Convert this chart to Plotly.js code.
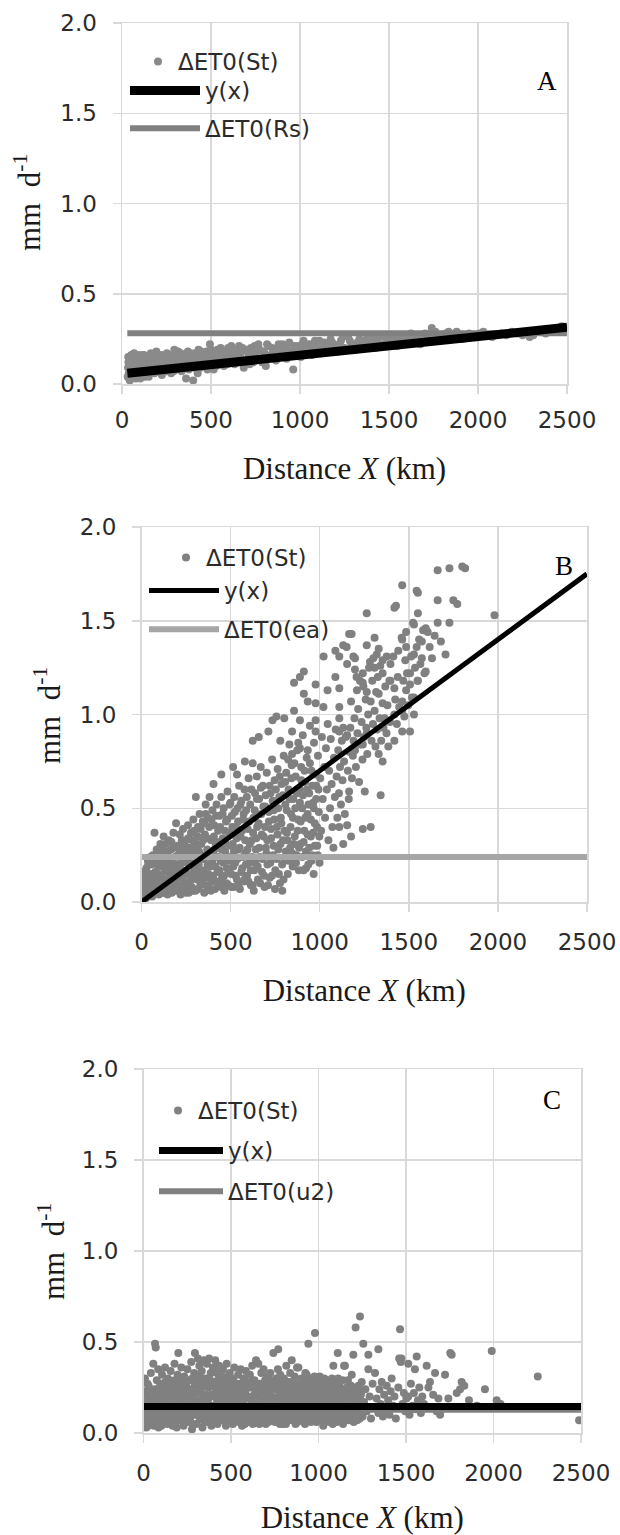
<!DOCTYPE html>
<html>
<head>
<meta charset="utf-8">
<script src="https://cdn.plot.ly/plotly-3.0.1.min.js"></script>
<style>html,body{margin:0;padding:0;background:#fff;}#chart{width:620px;height:1535px;}</style>
</head>
<body>
<div id="chart"></div>
<script>
// ---------- DATA ----------
const panelLabels = ["A", "B", "C"];
const seriesNames = ["\u0394ET0(St)", "y(x)"];
const refNames = ["\u0394ET0(Rs)", "\u0394ET0(ea)", "\u0394ET0(u2)"];
const xTitle = "Distance <i>X</i> (km)";
const yTitle = "mm  d<sup>-1</sup>";
const xTicks = [0, 500, 1000, 1500, 2000, 2500];
const yTicks = [0.0, 0.5, 1.0, 1.5, 2.0];

// Panel A: ΔET0(St) points [distance km, mm/d]
const stA = [[32,0.04],[34,0.09],[36,0.12],[38,0.06],[40,0.03],[42,0.10],[45,0.07],[48,0.13],[50,0.05],[53,0.08],
[56,0.11],[60,0.04],[62,0.14],[66,0.09],[70,0.06],[74,0.12],[78,0.03],[82,0.10],[86,0.15],[90,0.07],
[95,0.12],[100,0.05],[105,0.14],[110,0.09],[115,0.16],[120,0.06],[126,0.12],[132,0.08],[138,0.15],[145,0.11],
[150,0.04],[156,0.13],[162,0.17],[168,0.09],[175,0.12],[182,0.06],[190,0.15],[196,0.10],[204,0.13],[212,0.07],
[220,0.16],[228,0.11],[236,0.08],[244,0.14],[252,0.17],[260,0.10],[268,0.13],[276,0.06],[285,0.15],[294,0.19],
[302,0.11],[310,0.14],[320,0.09],[330,0.17],[340,0.12],[350,0.15],[360,0.03],[370,0.18],[380,0.10],[390,0.14],
[400,0.02],[410,0.17],[420,0.12],[430,0.19],[440,0.09],[450,0.15],[462,0.13],[474,0.18],[486,0.11],[494,0.22],
[505,0.16],[515,0.08],[525,0.14],[536,0.19],[548,0.12],[560,0.17],[572,0.10],[584,0.15],[596,0.20],[608,0.13],
[620,0.18],[632,0.11],[645,0.16],[658,0.21],[670,0.14],[684,0.09],[696,0.19],[710,0.15],[724,0.20],[738,0.12],
[752,0.17],[766,0.22],[780,0.14],[794,0.18],[808,0.10],[822,0.21],[836,0.16],[850,0.19],[865,0.13],[880,0.22],
[895,0.17],[910,0.20],[925,0.14],[940,0.23],[962,0.08],[975,0.18],[990,0.21],[1005,0.15],[1020,0.24],[1036,0.19],
[1052,0.22],[1068,0.16],[1084,0.24],[1100,0.20],[1118,0.17],[1136,0.23],[1154,0.19],[1172,0.25],[1190,0.21],[1210,0.18],
[1230,0.24],[1250,0.20],[1270,0.26],[1290,0.22],[1312,0.19],[1334,0.25],[1356,0.21],[1378,0.27],[1400,0.23],[1424,0.20],
[1448,0.26],[1472,0.22],[1496,0.27],[1520,0.24],[1546,0.21],[1572,0.27],[1598,0.23],[1624,0.28],[1650,0.25],[1676,0.22],
[1702,0.28],[1728,0.25],[1740,0.31],[1760,0.29],[1790,0.24],[1820,0.28],[1850,0.26],[1880,0.29],[1915,0.25],[1950,0.28],
[1990,0.27],[2030,0.29],[2080,0.26],[2130,0.28],[2190,0.29],[2250,0.27],[2290,0.26],[2330,0.29],[2380,0.28],[2420,0.30],
[2450,0.29],[2470,0.32],[2490,0.31],[2500,0.30]];
const stA_more = [[35,0.15],[44,0.02],[52,0.16],[58,0.05],[64,0.12],[68,0.17],[76,0.08],[84,0.05],[88,0.13],[92,0.16],
[98,0.09],[103,0.03],[108,0.12],[113,0.06],[118,0.11],[123,0.16],[129,0.04],[135,0.10],[141,0.07],[147,0.14],
[153,0.09],[159,0.06],[165,0.12],[171,0.15],[178,0.08],[185,0.11],[193,0.18],[200,0.07],[208,0.10],[216,0.13],
[224,0.05],[232,0.15],[240,0.10],[248,0.07],[256,0.13],[264,0.16],[272,0.09],[281,0.12],[290,0.07],[298,0.16],
[306,0.08],[315,0.18],[325,0.13],[335,0.07],[345,0.16],[355,0.11],[365,0.14],[375,0.08],[385,0.17],[395,0.12],
[405,0.09],[415,0.15],[425,0.06],[435,0.13],[445,0.18],[455,0.10],[468,0.16],[480,0.08],[490,0.14],[500,0.19],
[510,0.12],[520,0.17],[530,0.10],[542,0.15],[554,0.20],[566,0.13],[578,0.18],[590,0.11],[602,0.16],[614,0.21],
[626,0.14],[638,0.19],[651,0.12],[664,0.17],[677,0.20],[690,0.13],[703,0.18],[717,0.11],[731,0.16],[745,0.21],
[759,0.14],[773,0.19],[787,0.12],[801,0.17],[815,0.22],[829,0.15],[843,0.20],[858,0.14],[872,0.18],[888,0.15],
[902,0.22],[918,0.16],[932,0.19],[948,0.17],[968,0.21],[983,0.16],[998,0.19],[1013,0.22],[1028,0.17],[1044,0.21],
[1060,0.19],[1076,0.22],[1092,0.17],[1109,0.24],[1127,0.20],[1145,0.22],[1163,0.18],[1181,0.23],[1200,0.20],[1220,0.22],
[1240,0.26],[1260,0.19],[1280,0.24],[1301,0.21],[1323,0.23],[1345,0.20],[1367,0.24],[1389,0.22],[1412,0.25],[1436,0.23],
[1460,0.21],[1484,0.25],[1508,0.22],[1533,0.26],[1559,0.24],[1585,0.26],[1611,0.25],[1637,0.23],[1663,0.27],[1689,0.26],
[1715,0.24],[1745,0.27],[1775,0.26],[1805,0.25],[1835,0.29],[1865,0.27],[1900,0.26],[1935,0.27],[1970,0.26],[2010,0.28],
[2055,0.27],[2105,0.27],[2160,0.27],[2220,0.28],[2310,0.27],[2400,0.29],[2440,0.31],[2480,0.29]];
const fitA_x = [30, 2500];
const fitA_y = [0.059, 0.314];
const refA_x = [30, 2500];
const refA_y = [0.281, 0.281];

// Panel B
const stB = [[5,0.03],[12,0.08],[18,0.13],[22,0.05],[27,0.18],[31,0.10],[36,0.22],[40,0.04],[44,0.15],[48,0.07],
[52,0.12],[56,0.20],[60,0.03],[64,0.25],[68,0.09],[73,0.37],[77,0.16],[81,0.06],[85,0.28],[90,0.11],[94,0.19],[98,0.04],
[102,0.14],[106,0.31],[110,0.07],[115,0.22],[119,0.10],[124,0.35],[128,0.05],[132,0.17],[137,0.26],[141,0.12],[146,0.04],[149,0.20],
[153,0.33],[157,0.08],[162,0.15],[166,0.28],[170,0.05],[175,0.19],[179,0.37],[183,0.11],[188,0.24],[192,0.06],[194,0.42],[197,0.14],
[202,0.30],[206,0.09],[211,0.18],[215,0.36],[219,0.04],[224,0.22],[228,0.13],[233,0.39],[237,0.07],[241,0.27],[246,0.16],[249,0.33],
[252,0.10],[256,0.21],[261,0.41],[265,0.05],[269,0.29],[274,0.14],[278,0.37],[282,0.08],[287,0.24],[291,0.44],[295,0.17],[299,0.32],
[303,0.06],[305,0.56],[308,0.26],[312,0.12],[317,0.40],[321,0.20],[326,0.47],[330,0.09],[335,0.31],[339,0.15],[344,0.43],[348,0.23],
[352,0.05],[356,0.36],[360,0.52],[360,0.47],[364,0.13],[369,0.28],[373,0.45],[377,0.08],[382,0.56],[386,0.19],[391,0.33],[395,0.11],[398,0.49],
[404,0.63],[404,0.25],[408,0.41],[412,0.07],[417,0.30],[421,0.52],[426,0.16],[430,0.38],[435,0.10],[439,0.46],[444,0.22],[448,0.68],[448,0.56],
[452,0.13],[456,0.34],[461,0.50],[465,0.06],[470,0.27],[474,0.43],[479,0.18],[483,0.59],[488,0.09],[492,0.37],[497,0.24],[499,0.53],
[503,0.15],[507,0.46],[512,0.31],[514,0.72],[517,0.08],[521,0.56],[526,0.21],[530,0.40],[535,0.12],[536,0.68],[539,0.50],[544,0.28],[548,0.62],
[552,0.07],[556,0.35],[561,0.54],[565,0.18],[570,0.44],[574,0.11],[578,0.60],[580,0.75],[583,0.26],[587,0.49],[592,0.14],[596,0.39],
[601,0.66],[605,0.21],[610,0.52],[614,0.09],[619,0.33],[624,0.86],[624,0.74],[624,0.09],[628,0.45],[633,0.17],[637,0.58],[642,0.28],[647,0.67],[649,0.40],
[653,0.12],[658,0.88],[660,0.55],[664,0.24],[669,0.72],[672,0.47],[676,0.16],[681,0.62],[685,0.35],[690,0.08],[694,0.51],[698,0.29],
[703,0.69],[707,0.20],[712,0.91],[715,0.43],[719,0.13],[724,0.58],[728,0.34],[733,0.76],[735,0.97],[738,0.25],[742,0.49],[747,0.65],
[751,0.17],[757,0.99],[760,0.40],[764,0.71],[768,0.28],[773,0.56],[777,0.10],[779,0.86],[782,0.45],[786,0.63],[790,0.06],[794,0.33],[798,0.78],
[801,0.98],[803,0.22],[807,0.52],[812,0.69],[816,0.37],[821,0.15],[825,0.60],[830,0.84],[834,0.29],[839,0.47],[843,0.73],[845,0.91],[845,0.79],[848,0.19],
[852,0.55],[856,1.02],[856,1.17],[860,0.35],[865,0.67],[869,0.25],[874,0.81],[878,0.44],[883,0.17],[887,0.60],[889,0.82],[889,0.97],[889,1.20],[892,0.31],[896,0.72],
[901,0.50],[905,0.89],[910,0.17],[911,1.23],[911,1.11],[914,0.38],[918,0.64],[923,0.27],[927,0.77],[932,0.47],[933,1.07],[933,0.81],[936,0.20],[941,0.58],[945,0.94],
[950,0.35],[954,0.70],[959,0.25],[963,0.53],[966,0.15],[968,0.85],[972,0.42],[977,0.97],[977,0.91],[977,1.06],[977,1.16],[981,0.62],[986,0.30],[990,0.78],[995,0.48],[999,0.21],
[1003,0.66],[1008,0.38],[1012,0.88],[1017,0.55],[1021,1.04],[1022,1.31],[1026,0.72],[1030,0.45],[1035,0.82],[1040,0.60],[1044,1.13],[1045,0.95],[1049,0.33],
[1053,0.70],[1058,0.50],[1062,0.87],[1067,0.63],[1071,0.40],[1077,0.29],[1080,0.77],[1085,0.56],[1088,1.20],[1088,1.34],[1090,0.92],[1095,0.67],[1099,0.45],
[1104,0.81],[1108,0.58],[1110,0.98],[1110,0.91],[1110,1.04],[1110,1.14],[1110,1.31],[1110,0.40],[1114,0.72],[1119,0.52],[1124,0.86],[1128,0.65],[1132,0.93],[1132,0.31],[1132,1.37],[1137,0.75],[1141,0.47],[1146,0.88],
[1151,1.36],[1154,0.41],[1154,0.89],[1154,1.27],[1158,0.70],[1163,0.55],[1165,0.59],[1165,1.43],[1168,0.80],[1172,0.93],[1176,0.35],[1176,1.07],[1179,1.43],[1181,0.66],[1186,0.78],[1189,1.31],[1190,0.86],[1195,0.98],[1198,1.30],[1198,1.24],[1198,0.81],
[1203,0.72],[1207,1.20],[1209,1.13],[1212,0.90],[1216,1.03],[1221,0.64],[1226,1.18],[1230,0.84],[1235,0.96],[1240,0.76],[1242,0.39],[1242,0.84],[1242,1.17],[1242,1.22],[1245,1.15],[1249,0.88],[1253,0.59],
[1258,1.08],[1262,0.93],[1264,1.54],[1264,1.37],[1264,1.12],[1264,0.90],[1267,0.79],[1272,1.00],[1277,1.25],[1282,1.28],[1286,1.07],[1286,0.40],[1291,0.86],[1295,1.18],[1299,0.95],
[1301,1.30],[1308,1.41],[1308,1.25],[1308,1.02],[1313,0.83],[1317,1.12],[1320,1.32],[1322,0.92],[1326,1.20],[1331,1.35],[1331,1.11],[1331,0.79],[1336,0.98],[1340,1.26],[1342,0.57],[1345,0.86],
[1353,1.29],[1353,1.22],[1353,1.06],[1353,0.75],[1358,0.93],[1364,0.98],[1368,1.15],[1375,0.90],[1376,1.31],[1380,1.05],[1385,0.83],[1391,1.18],[1394,0.96],[1397,1.27],[1397,1.18],
[1413,1.31],[1419,1.57],[1419,1.14],[1419,1.00],[1419,0.86],[1424,1.08],[1428,1.58],[1433,0.95],[1438,1.20],[1441,1.34],[1446,1.04],
[1460,1.41],[1463,1.69],[1463,1.40],[1463,1.07],[1463,1.02],[1463,0.91],[1469,1.18],[1475,0.99],[1480,1.29],[1485,1.44],[1485,1.36],[1485,1.13],[1490,1.22],[1497,1.05],
[1507,1.22],[1507,1.16],[1507,0.91],[1513,1.31],[1518,1.09],[1524,1.49],[1529,1.48],[1529,1.32],[1529,1.09],[1529,1.00],[1535,1.25],[1544,1.66],[1544,1.36],[1549,1.18],
[1551,1.65],[1551,1.54],[1551,1.18],[1558,1.40],[1565,1.27],[1573,1.39],[1573,1.30],[1580,1.45],[1588,1.22],[1595,1.46],[1595,1.23],
[1606,1.44],[1617,1.36],[1630,1.30],[1645,1.42],[1662,1.77],[1662,1.61],[1662,1.49],[1680,1.39],[1706,1.32],[1728,1.78],[1728,1.49],[1750,1.61],[1772,1.59],[1800,1.79],[1816,1.78],[1981,1.53]];
const stB_more = [[3,0.10],[9,0.16],[15,0.06],[20,0.11],[25,0.02],[33,0.14],[38,0.20],[46,0.10],[50,0.24],[55,0.06],
[62,0.15],[66,0.21],[71,0.10],[79,0.13],[83,0.22],[88,0.05],[92,0.15],[96,0.26],[104,0.08],[108,0.19],
[113,0.13],[117,0.28],[121,0.05],[126,0.21],[130,0.11],[135,0.31],[139,0.08],[143,0.16],[148,0.27],[155,0.22],
[160,0.10],[164,0.19],[168,0.32],[173,0.13],[177,0.07],[181,0.29],[186,0.16],[190,0.20],[199,0.09],[204,0.25],
[209,0.13],[213,0.28],[217,0.20],[222,0.06],[226,0.33],[231,0.17],[235,0.24],[239,0.11],[244,0.30],[248,0.05],
[254,0.26],[259,0.15],[263,0.34],[267,0.09],[272,0.20],[276,0.27],[280,0.12],[285,0.33],[289,0.06],[293,0.22],
[297,0.38],[301,0.14],[306,0.29],[310,0.19],[314,0.35],[319,0.07],[323,0.27],[328,0.16],[332,0.39],[337,0.11],
[341,0.25],[346,0.33],[350,0.17],[354,0.42],[358,0.24],[362,0.09],[367,0.34],[371,0.20],[375,0.15],[380,0.40],
[384,0.27],[389,0.06],[393,0.44],[397,0.22],[402,0.14],[406,0.35],[410,0.28],[415,0.19],[419,0.46],[423,0.11],
[428,0.32],[432,0.24],[437,0.17],[441,0.40],[446,0.08],[450,0.28],[455,0.47],[459,0.21],[463,0.14],[468,0.38],
[472,0.31],[477,0.10],[481,0.44],[486,0.22],[490,0.16],[495,0.52],[501,0.30],[505,0.08],[510,0.40],[515,0.19],
[519,0.27],[524,0.48],[528,0.14],[533,0.34],[538,0.23],[542,0.43],[546,0.10],[551,0.29],[555,0.52],[560,0.16],
[564,0.38],[569,0.24],[573,0.47],[578,0.12],[582,0.33],[586,0.20],[591,0.56],[595,0.28],[600,0.11],[604,0.43],
[608,0.31],[613,0.17],[617,0.60],[621,0.24],[626,0.37],[630,0.06],[635,0.49],[639,0.21],[644,0.34],[648,0.55],
[652,0.19],[657,0.42],[661,0.29],[666,0.10],[670,0.61],[675,0.36],[679,0.23],[684,0.51],[688,0.14],[693,0.40],
[697,0.57],[701,0.26],[706,0.33],[710,0.09],[714,0.48],[719,0.62],[723,0.21],[727,0.39],[732,0.14],[736,0.54],
[741,0.30],[745,0.44],[749,0.07],[754,0.60],[758,0.23],[763,0.36],[767,0.50],[771,0.15],[776,0.67],[780,0.31],
[785,0.42],[789,0.20],[793,0.57],[797,0.12],[802,0.38],[806,0.64],[810,0.27],[815,0.49],[819,0.33],[823,0.76],
[828,0.22],[832,0.55],[836,0.40],[841,0.66],[845,0.26],[850,0.45],[854,0.31],[858,0.74],[863,0.50],[867,0.21],
[871,0.58],[876,0.38],[880,0.85],[884,0.29],[889,0.53],[893,0.43],[897,0.65],[902,0.24],[906,0.57],[910,0.32],
[915,0.70],[919,0.45],[923,0.18],[928,0.60],[932,0.36],[937,0.52],[941,0.29],[945,0.74],[950,0.44],[954,0.22],
[958,0.62],[963,0.37],[967,0.50],[972,0.30],[976,0.68],[980,0.55],[985,0.40],[989,0.25],[993,0.60],[998,0.35]];
const fitB_x = [0, 2500];
const fitB_y = [0.0, 1.75];
const refB_x = [0, 2500];
const refB_y = [0.24, 0.24];

// Panel C
const stC = [[4,0.06],[8,0.30],[12,0.12],[16,0.03],[20,0.21],[25,0.09],[29,0.26],[33,0.15],[38,0.05],[42,0.33],[46,0.18],
[52,0.11],[56,0.38],[60,0.04],[64,0.24],[66,0.49],[70,0.47],[72,0.14],[76,0.29],[80,0.07],[84,0.35],[88,0.19],[93,0.10],[97,0.27],
[102,0.04],[106,0.32],[110,0.16],[114,0.22],[119,0.08],[123,0.36],[127,0.13],[131,0.26],[136,0.05],[140,0.30],[145,0.18],
[151,0.10],[155,0.34],[160,0.21],[164,0.06],[168,0.28],[172,0.14],[177,0.38],[181,0.09],[186,0.25],[190,0.03],[195,0.32],[199,0.44],
[203,0.17],[207,0.29],[212,0.07],[216,0.36],[220,0.12],[225,0.23],[229,0.04],[233,0.31],[238,0.16],[242,0.27],[246,0.09],
[251,0.35],[255,0.20],[260,0.06],[264,0.29],[268,0.13],[273,0.39],[277,0.02],[281,0.24],[286,0.11],[290,0.33],[294,0.44],[298,0.17],
[302,0.05],[306,0.28],[311,0.41],[315,0.14],[319,0.37],[324,0.08],[328,0.22],[333,0.34],[337,0.03],[341,0.19],[345,0.40],[349,0.11],
[353,0.30],[358,0.16],[362,0.38],[366,0.06],[371,0.25],[375,0.41],[380,0.12],[384,0.33],[388,0.04],[393,0.21],[397,0.36],
[401,0.09],[405,0.28],[410,0.40],[414,0.15],[418,0.33],[423,0.05],[427,0.24],[432,0.37],[436,0.11],[440,0.19],[445,0.31],
[449,0.07],[454,0.35],[458,0.22],[462,0.13],[467,0.29],[471,0.04],[475,0.38],[480,0.17],[484,0.26],[489,0.09],[493,0.33],
[502,0.14],[506,0.30],[511,0.05],[515,0.23],[519,0.36],[524,0.11],[528,0.27],[533,0.18],[537,0.07],[541,0.32],[546,0.21],
[550,0.10],[555,0.35],[559,0.25],[563,0.04],[568,0.16],[572,0.30],[577,0.08],[581,0.22],[585,0.34],[590,0.13],[594,0.27],
[599,0.06],[603,0.19],[608,0.32],[612,0.11],[617,0.25],[621,0.37],[625,0.05],[630,0.16],[634,0.29],[638,0.10],[643,0.40],[647,0.22],
[651,0.14],[656,0.38],[660,0.07],[664,0.27],[669,0.18],[673,0.33],[678,0.09],[682,0.24],[686,0.35],[691,0.12],[695,0.29],
[699,0.05],[704,0.21],[708,0.31],[712,0.15],[717,0.26],[721,0.08],[725,0.33],[730,0.19],[734,0.11],[738,0.28],[742,0.44],[747,0.16],
[751,0.06],[755,0.24],[760,0.30],[764,0.13],[768,0.35],[770,0.46],[773,0.09],[777,0.22],[781,0.32],[786,0.15],[790,0.27],[795,0.05],
[799,0.20],[803,0.30],[808,0.11],[812,0.25],[816,0.37],[821,0.07],[825,0.18],[829,0.28],[834,0.13],[838,0.33],[843,0.22],[847,0.40],
[851,0.09],[856,0.26],[860,0.16],[864,0.31],[869,0.05],[873,0.21],[877,0.36],[882,0.12],[885,0.36],[886,0.27],[890,0.18],[895,0.08],
[899,0.24],[903,0.30],[908,0.14],[912,0.20],[916,0.06],[921,0.27],[925,0.33],[929,0.11],[932,0.32],[934,0.17],[938,0.25],[942,0.49],
[947,0.09],[951,0.22],[955,0.30],[960,0.14],[964,0.19],[968,0.07],[973,0.26],[977,0.31],[980,0.55],[981,0.12],[986,0.21],[990,0.28],[994,0.16],
[999,0.08],[1003,0.24],[1007,0.31],[1012,0.13],[1016,0.20],[1020,0.06],[1025,0.27],[1029,0.17],[1033,0.30],[1038,0.10],[1042,0.23],[1046,0.15],
[1051,0.29],[1055,0.08],[1059,0.21],[1064,0.12],[1068,0.26],[1072,0.17],[1077,0.30],[1081,0.05],[1085,0.37],[1086,0.22],[1090,0.13],[1094,0.28],
[1099,0.09],[1103,0.24],[1107,0.18],[1110,0.44],[1112,0.30],[1116,0.11],[1120,0.26],[1125,0.15],[1129,0.21],[1133,0.07],[1138,0.29],[1142,0.17],[1146,0.37],
[1151,0.37],[1151,0.12],[1155,0.24],[1160,0.08],[1164,0.20],[1168,0.29],[1173,0.14],[1177,0.22],[1181,0.10],[1186,0.26],[1190,0.32],[1194,0.18],[1199,0.43],
[1203,0.11],[1208,0.23],[1212,0.58],[1216,0.15],[1221,0.07],[1225,0.19],[1229,0.26],[1234,0.12],[1237,0.64],[1242,0.21],[1247,0.28],[1256,0.49],
[1252,0.09],[1260,0.17],[1268,0.24],[1276,0.12],[1285,0.43],[1285,0.35],[1292,0.20],[1300,0.08],[1309,0.27],[1316,0.14],[1323,0.33],[1332,0.19],[1342,0.46],[1342,0.11],[1348,0.24],
[1355,0.16],[1361,0.28],[1368,0.09],[1375,0.21],[1382,0.13],[1390,0.26],[1398,0.18],[1405,0.10],[1412,0.23],[1418,0.30],[1426,0.15],[1434,0.20],[1442,0.08],
[1456,0.25],[1461,0.41],[1466,0.57],[1470,0.39],[1474,0.41],[1480,0.16],[1488,0.22],[1495,0.12],[1502,0.19],[1513,0.38],[1513,0.20],[1520,0.10],[1528,0.27],[1536,0.15],[1545,0.22],[1551,0.35],
[1555,0.13],[1561,0.42],[1568,0.18],[1576,0.25],[1585,0.11],[1593,0.20],[1603,0.16],[1618,0.37],[1628,0.25],[1637,0.28],[1645,0.14],[1655,0.21],[1666,0.33],[1675,0.12],[1685,0.19],[1695,0.10],
[1723,0.32],[1742,0.19],[1753,0.44],[1761,0.43],[1770,0.14],[1790,0.22],[1809,0.24],[1818,0.28],[1833,0.26],[1860,0.18],[1905,0.15],[1951,0.24],[1990,0.45],[2018,0.18],[2040,0.16],[2253,0.31],[2489,0.07]];
const stC_more = [[2,0.17],[6,0.10],[10,0.23],[14,0.07],[18,0.14],[23,0.27],[27,0.04],[31,0.19],[35,0.11],[40,0.24],[44,0.08],[48,0.13],
[54,0.20],[58,0.09],[62,0.16],[68,0.05],[74,0.22],[78,0.12],[82,0.18],[86,0.03],[91,0.25],[95,0.14],[99,0.20],
[104,0.10],[108,0.24],[112,0.06],[117,0.18],[121,0.12],[125,0.28],[129,0.08],[134,0.20],[138,0.15],[143,0.24],[147,0.06],
[149,0.16],[153,0.26],[158,0.12],[162,0.18],[166,0.04],[170,0.23],[175,0.10],[179,0.29],[184,0.15],[188,0.07],[192,0.20],[197,0.12],
[201,0.24],[205,0.10],[210,0.20],[214,0.14],[218,0.27],[223,0.08],[227,0.18],[231,0.13],[236,0.22],[240,0.06],[244,0.19],[248,0.25],
[253,0.12],[257,0.16],[262,0.23],[266,0.08],[270,0.20],[275,0.15],[279,0.30],[284,0.05],[288,0.19],[292,0.26],[296,0.10],
[300,0.22],[304,0.13],[309,0.18],[313,0.26],[317,0.09],[321,0.31],[326,0.16],[330,0.12],[335,0.25],[339,0.07],[343,0.20],[347,0.28],
[351,0.14],[355,0.21],[360,0.09],[364,0.26],[368,0.18],[373,0.12],[377,0.30],[382,0.07],[386,0.21],[390,0.15],[395,0.27],[399,0.12],
[403,0.20],[407,0.06],[412,0.24],[416,0.10],[420,0.18],[425,0.29],[429,0.14],[434,0.21],[438,0.07],[442,0.26],[447,0.16],
[451,0.27],[456,0.11],[460,0.18],[465,0.08],[469,0.23],[473,0.14],[478,0.31],[482,0.06],[486,0.20],[491,0.13],[495,0.25],[498,0.18],
[500,0.07],[504,0.21],[509,0.12],[513,0.29],[517,0.16],[522,0.08],[526,0.20],[531,0.25],[535,0.13],[539,0.18],[544,0.06],[548,0.27],
[553,0.17],[557,0.08],[561,0.21],[566,0.12],[570,0.26],[575,0.15],[579,0.05],[583,0.19],[588,0.28],[592,0.09],[597,0.20],
[601,0.13],[606,0.25],[610,0.07],[615,0.18],[619,0.14],[623,0.29],[628,0.10],[632,0.21],[636,0.16],[641,0.07],[645,0.25],[649,0.12],
[654,0.20],[658,0.16],[662,0.05],[667,0.22],[671,0.13],[676,0.27],[680,0.10],[684,0.18],[689,0.23],[693,0.07],[697,0.15],
[702,0.27],[706,0.11],[710,0.19],[715,0.06],[719,0.22],[723,0.14],[728,0.25],[732,0.09],[736,0.20],[740,0.13],[745,0.29],[749,0.17],
[753,0.11],[758,0.19],[762,0.08],[766,0.26],[771,0.14],[775,0.20],[779,0.05],[784,0.24],[788,0.10],[792,0.17],[797,0.13],
[801,0.08],[805,0.23],[810,0.16],[814,0.05],[818,0.20],[823,0.12],[827,0.26],[831,0.09],[836,0.17],[840,0.28],[845,0.14],[849,0.07],
[853,0.19],[858,0.12],[862,0.23],[866,0.08],[871,0.16],[875,0.27],[880,0.06],[884,0.20],[888,0.14],[893,0.24],[897,0.11],
[901,0.17],[906,0.09],[910,0.25],[914,0.12],[919,0.18],[923,0.05],[927,0.21],[931,0.15],[936,0.28],[940,0.10],[944,0.19],
[949,0.13],[953,0.26],[957,0.06],[962,0.23],[966,0.11],[970,0.17],[975,0.09],[979,0.22],[983,0.14],[988,0.06],[992,0.25],[996,0.11],
[1001,0.18],[1005,0.13],[1010,0.22],[1014,0.09],[1018,0.27],[1023,0.15],[1027,0.04],[1031,0.20],[1036,0.12],[1040,0.17],[1044,0.07],[1048,0.25],
[1053,0.14],[1057,0.19],[1062,0.06],[1066,0.22],[1070,0.10],[1075,0.16],[1079,0.24],[1083,0.12],[1088,0.18],[1092,0.08],[1096,0.20],
[1101,0.14],[1105,0.06],[1109,0.22],[1114,0.13],[1118,0.19],[1122,0.09],[1127,0.24],[1131,0.12],[1135,0.17],[1140,0.05],[1144,0.21],[1148,0.13],
[1153,0.18],[1157,0.10],[1162,0.25],[1166,0.14],[1170,0.07],[1175,0.19],[1179,0.12],[1183,0.26],[1188,0.09],[1192,0.16],[1197,0.21],
[1201,0.06],[1206,0.16],[1210,0.12],[1214,0.20],[1219,0.09],[1223,0.24],[1227,0.14],[1232,0.18],[1236,0.08],[1240,0.13],[1245,0.23],[1249,0.16]];
const fitC_x = [0, 2500];
const fitC_y = [0.145, 0.145];
const refC_x = [0, 2500];
const refC_y = [0.128, 0.128];

// ---------- STYLE ----------
const W = 620, H = 1535;
const panels = [
  {st: stA.concat(stA_more), fx: fitA_x, fy: fitA_y, rx: refA_x, ry: refA_y, box: [122, 567, 23, 384],
   msize: 8, mcol: '#8a8a8a', fitW: 9, refW: 6, refCol: '#808080',
   legSt: [138, 40], legLn: [125, 69], lnW: 70, gap: 5, lab: [2390, 1.68],
   xls: 7, xts: 25, ytPos: [28, 203]},
  {st: stB.concat(stB_more), fx: fitB_x, fy: fitB_y, rx: refB_x, ry: refB_y, box: [141.5, 587, 527, 902],
   msize: 8, mcol: '#808080', fitW: 5, refW: 6, refCol: '#a6a6a6',
   legSt: [166, 536], legLn: [144, 569], lnW: 70, gap: 6, lab: [2370, 1.79],
   xls: 11, xts: 25, ytPos: [47, 716]},
  {st: stC.concat(stC_more), fx: fitC_x, fy: fitC_y, rx: refC_x, ry: refC_y, box: [143.5, 581, 1069, 1433],
   msize: 8, mcol: '#808080', fitW: 7, refW: 6, refCol: '#808080',
   legSt: [158, 1089], legLn: [154, 1129], lnW: 64, gap: 8, lab: [2335, 1.83],
   xls: 11, xts: 22, ytPos: [51, 1252]}
];

const data = [];
const layout = {
  width: W, height: H, margin: {l: 0, r: 0, t: 0, b: 0},
  paper_bgcolor: '#ffffff', plot_bgcolor: '#ffffff',
  showlegend: true, annotations: []
};
const tickFont = {family: 'DejaVu Sans, Liberation Sans, sans-serif', size: 23, color: '#2b2b2b'};
const titleFont = {family: 'Liberation Serif, Times New Roman, serif', size: 31, color: '#1a1a1a'};
const legFont = {family: 'DejaVu Sans, Liberation Sans, sans-serif', size: 23, color: '#2b2b2b'};

panels.forEach((p, i) => {
  const n = i === 0 ? '' : String(i + 1);
  const xa = 'x' + n, ya = 'y' + n;
  const lgSt = i === 0 ? 'legend' : 'legend' + (2 * i + 1);
  const lgLn = 'legend' + (2 * i + 2);
  data.push({type: 'scatter', mode: 'markers', x: p.st.map(d => d[0]), y: p.st.map(d => d[1]),
    xaxis: xa, yaxis: ya, name: seriesNames[0], legend: lgSt,
    marker: {color: p.mcol, size: p.msize, line: {width: 0}}});
  data.push({type: 'scatter', mode: 'lines', x: p.rx, y: p.ry, xaxis: xa, yaxis: ya,
    name: refNames[i], legend: lgLn, legendrank: 3, legendgroup: 'r' + i,
    line: {color: p.refCol, width: p.refW}});
  data.push({type: 'scatter', mode: 'lines', x: p.fx, y: p.fy, xaxis: xa, yaxis: ya,
    name: seriesNames[1], legend: lgLn, legendrank: 2, legendgroup: 'f' + i,
    line: {color: '#000000', width: p.fitW}});

  const [x0, x1, yt, yb] = p.box;
  const axCommon = {
    showgrid: true, gridcolor: '#d9d9d9', gridwidth: 1.5, zeroline: false,
    showline: true, linecolor: '#d9d9d9', linewidth: 1.5, mirror: true,
    ticks: 'outside', ticklen: 8, tickwidth: 1.5, tickcolor: '#d9d9d9',
    tickfont: tickFont, automargin: false, fixedrange: true
  };
  layout['xaxis' + n] = Object.assign({}, axCommon, {
    domain: [x0 / W, x1 / W], anchor: ya, range: [0, 2500], tickvals: xTicks,
    ticktext: xTicks.map(String), ticklabelstandoff: p.xls,
    title: {text: xTitle, font: titleFont, standoff: p.xts}
  });
  layout['yaxis' + n] = Object.assign({}, axCommon, {
    domain: [1 - yb / H, 1 - yt / H], anchor: xa, range: [0, 2], tickvals: yTicks,
    ticktext: yTicks.map(v => v.toFixed(1)), ticklabelstandoff: 11
  });
  const legBase = {xanchor: 'left', yanchor: 'top', bgcolor: 'rgba(0,0,0,0)', borderwidth: 0,
    font: legFont, itemsizing: 'trace'};
  layout[lgSt] = Object.assign({}, legBase, {x: p.legSt[0] / W, y: 1 - p.legSt[1] / H, itemwidth: 30});
  layout[lgLn] = Object.assign({}, legBase, {x: p.legLn[0] / W, y: 1 - p.legLn[1] / H,
    itemwidth: p.lnW, tracegroupgap: p.gap, traceorder: 'grouped'});
  // y-axis title
  layout.annotations.push({xref: 'paper', yref: 'paper', x: p.ytPos[0] / W, y: 1 - p.ytPos[1] / H,
    xanchor: 'center', yanchor: 'middle', textangle: -90, text: yTitle, showarrow: false, font: titleFont});
  // panel letter
  layout.annotations.push({xref: xa, yref: ya, x: p.lab[0], y: p.lab[1], text: panelLabels[i],
    showarrow: false, font: {family: 'Liberation Serif, Times New Roman, serif', size: 27, color: '#000'}});
});

Plotly.newPlot('chart', data, layout, {staticPlot: true, displayModeBar: false});
</script>
</body>
</html>
